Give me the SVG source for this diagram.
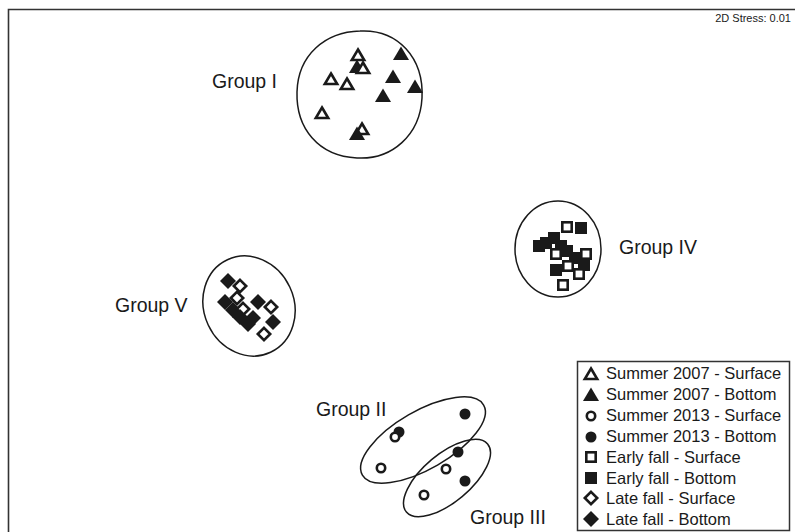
<svg xmlns="http://www.w3.org/2000/svg" width="795" height="532" viewBox="0 0 795 532">
<defs>
<style>
text{font-family:"Liberation Sans",Arial,sans-serif;fill:#1a1a1a}
.lbl{font-size:19.5px}
.leg{font-size:16.5px}
.hull{fill:none;stroke:#1a1a1a;stroke-width:1.5}
.f{fill:#1a1a1a;stroke:none}
.o{fill:#fff;stroke:#1a1a1a;stroke-width:2.6}
</style>
<path id="tri" d="M0,-7.5 L8,6 L-8,6 Z"/>
<path id="trio" d="M0,-5.5 L6.2,5 L-6.2,5 Z"/>
<rect id="sq" x="-6" y="-6" width="12" height="12"/>
<rect id="sqo" x="-4.7" y="-4.7" width="9.4" height="9.4"/>
<path id="dm" d="M0,-8 L8,0 L0,8 L-8,0 Z"/>
<path id="dmo" d="M0,-6.2 L6.2,0 L0,6.2 L-6.2,0 Z"/>
</defs>
<rect width="795" height="532" fill="#fff"/>
<path d="M8.5,532 V9.5 H795" fill="none" stroke="#333" stroke-width="1.6"/>
<text x="791" y="22" text-anchor="end" style="font-size:11px">2D Stress: 0.01</text>

<g id="connectors"></g>

<g id="groupI">
<path class="hull" d="M360,31 C398,29 424,58 422,98 C420,135 392,160 357,158 C318,156 296,128 297,92 C298,55 325,32 360,31 Z"/>
<text class="lbl" x="212" y="88">Group I</text>
<use href="#trio" class="o" x="358" y="55"/>
<use href="#tri" class="f" x="357" y="67"/>
<use href="#trio" class="o" x="363" y="68"/>
<use href="#tri" class="f" x="401" y="54"/>
<use href="#trio" class="o" x="331" y="79"/>
<use href="#trio" class="o" x="347" y="84"/>
<use href="#tri" class="f" x="393" y="77"/>
<use href="#tri" class="f" x="415" y="87"/>
<use href="#tri" class="f" x="383" y="96"/>
<use href="#trio" class="o" x="322" y="113"/>
<use href="#trio" class="o" x="362" y="129"/>
<use href="#tri" class="f" x="357" y="134"/>
</g>

<g id="groupIV">
<ellipse class="hull" cx="558" cy="249" rx="43" ry="48"/>
<text class="lbl" x="619" y="254">Group IV</text>
<use href="#sqo" class="o" x="567" y="227"/>
<use href="#sq" class="f" x="581" y="228"/>
<use href="#sq" class="f" x="539" y="246"/>
<use href="#sq" class="f" x="546" y="243"/>
<use href="#sq" class="f" x="554" y="238"/>
<use href="#sq" class="f" x="561" y="246"/>
<use href="#sq" class="f" x="567" y="251"/>
<use href="#sqo" class="o" x="556" y="254"/>
<use href="#sq" class="f" x="575" y="258"/>
<use href="#sqo" class="o" x="586" y="254"/>
<use href="#sq" class="f" x="584" y="265"/>
<use href="#sqo" class="o" x="568" y="266"/>
<use href="#sq" class="f" x="556" y="270"/>
<use href="#sqo" class="o" x="579" y="274"/>
<use href="#sqo" class="o" x="563" y="285"/>
</g>

<g id="groupV">
<ellipse class="hull" cx="249" cy="306" rx="45" ry="51" transform="rotate(-25 249 306)"/>
<text class="lbl" x="115" y="312">Group V</text>
<use href="#dm" class="f" x="228" y="281"/>
<use href="#dmo" class="o" x="240" y="286"/>
<use href="#dm" class="f" x="225" y="302"/>
<use href="#dmo" class="o" x="237" y="298"/>
<use href="#dm" class="f" x="233" y="310"/>
<use href="#dmo" class="o" x="243" y="309"/>
<use href="#dm" class="f" x="240" y="317"/>
<use href="#dm" class="f" x="258" y="302"/>
<use href="#dmo" class="o" x="271" y="307"/>
<use href="#dm" class="f" x="253" y="318"/>
<use href="#dm" class="f" x="248" y="324"/>
<use href="#dm" class="f" x="273" y="322"/>
<use href="#dmo" class="o" x="264" y="334"/>
</g>

<g id="groupII">
<ellipse class="hull" cx="423" cy="440" rx="70" ry="29" transform="rotate(-30 423 440)"/>
<text class="lbl" x="316" y="416">Group II</text>
<circle class="f" cx="465" cy="414" r="5.5"/>
<circle class="f" cx="399" cy="432" r="5.5"/>
<circle class="o" cx="395" cy="437" r="4.2"/>
<circle class="o" cx="381" cy="468" r="4.2"/>
</g>

<g id="groupIII">
<ellipse class="hull" cx="447" cy="478" rx="53" ry="24" transform="rotate(-40 447 478)"/>
<text class="lbl" x="470" y="524">Group III</text>
<circle class="f" cx="458" cy="452" r="5.5"/>
<circle class="o" cx="446" cy="469" r="4.2"/>
<circle class="f" cx="465" cy="481" r="5.5"/>
<circle class="o" cx="424" cy="495" r="4.2"/>
</g>

<g id="legend">
<rect x="577.5" y="361.5" width="212" height="169" fill="#fff" stroke="#333" stroke-width="1.5"/>
<use href="#trio" class="o" x="591" y="374"/>
<text class="leg" x="606" y="379">Summer 2007 - Surface</text>
<use href="#tri" class="f" x="591" y="395"/>
<text class="leg" x="606" y="400">Summer 2007 - Bottom</text>
<circle class="o" cx="591" cy="416" r="4.2"/>
<text class="leg" x="606" y="421">Summer 2013 - Surface</text>
<circle class="f" cx="591" cy="437" r="5.5"/>
<text class="leg" x="606" y="442">Summer 2013 - Bottom</text>
<use href="#sqo" class="o" x="591" y="457"/>
<text class="leg" x="606" y="463">Early fall - Surface</text>
<use href="#sq" class="f" x="591" y="478"/>
<text class="leg" x="606" y="484">Early fall - Bottom</text>
<use href="#dmo" class="o" x="591" y="498"/>
<text class="leg" x="606" y="504">Late fall - Surface</text>
<use href="#dm" class="f" x="591" y="519"/>
<text class="leg" x="606" y="525">Late fall - Bottom</text>
</g>
</svg>
